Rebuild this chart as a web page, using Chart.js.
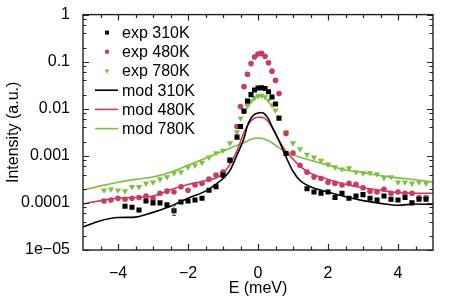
<!DOCTYPE html>
<html>
<head>
<meta charset="utf-8">
<script src="https://cdn.jsdelivr.net/npm/chart.js@4.4.0/dist/chart.umd.min.js"></script>
<style>
  html, body { margin: 0; padding: 0; background: #fff; }
  #wrap { width: 463px; height: 304px; }
</style>
</head>
<body>
<div id="wrap"><canvas id="chart"></canvas></div>
<script>
// measured points (E in meV, intensity in a.u.)
const e310 = [-3.8, -3.6, -3.4, -3.2, -3.0, -2.8, -2.6, -2.4, -2.2, -2.0, -1.8, -1.6, -1.4, -1.2, -1.0, -0.8,
  -0.6, -0.5, -0.4, -0.3, -0.2, -0.1, 0.0, 0.1, 0.2, 0.3, 0.4, 0.5, 0.6, 0.8,
  1.4, 1.6, 1.8, 2.0, 2.2, 2.4, 2.6, 2.8, 3.0, 3.2, 3.4, 3.6, 3.8, 4.0, 4.2, 4.4, 4.6, 4.8];
const i310 = [8.5e-5, 8.1e-5, 7.1e-5, 1.1e-4, 1.0e-4, 1.0e-4, 9.1e-5, 6.8e-5, 1.05e-4, 1.1e-4, 1.15e-4, 1.26e-4, 1.86e-4, 2.2e-4, 3.9e-4, 8.1e-4,
  2.5e-3, 4.2e-3, 8.9e-3, 1.45e-2, 2.0e-2, 2.5e-2, 2.75e-2, 2.8e-2, 2.7e-2, 2.3e-2, 1.78e-2, 1.26e-2, 6.3e-3, 1.12e-3,
  2.0e-4, 1.7e-4, 1.6e-4, 1.7e-4, 1.3e-4, 1.6e-4, 1.26e-4, 1.4e-4, 1.5e-4, 1.26e-4, 1.15e-4, 1.4e-4, 1.2e-4, 1.15e-4, 1.3e-4, 1.0e-4, 1.2e-4, 1.2e-4];

const e480 = [-4.4, -4.2, -4.0, -3.8, -3.6, -3.4, -3.2, -3.0, -2.8, -2.6, -2.4, -2.2, -2.0, -1.8, -1.6, -1.4, -1.2, -1.0, -0.8,
  -0.6, -0.5, -0.4, -0.3, -0.2, -0.1, 0.0, 0.1, 0.2, 0.3, 0.4, 0.5, 0.6,
  0.8, 1.0, 1.2, 1.4, 1.6, 1.8, 2.0, 2.2, 2.4, 2.6, 2.8, 3.0, 3.2, 3.4, 3.6, 3.8, 4.0, 4.2, 4.4, 4.6, 4.8];
const i480 = [1.1e-4, 1.15e-4, 1.26e-4, 1.2e-4, 1.26e-4, 1.3e-4, 1.4e-4, 1.26e-4, 1.6e-4, 1.78e-4, 1.7e-4, 2.2e-4, 1.86e-4, 2.4e-4, 2.6e-4, 3.2e-4, 3.9e-4, 4.5e-4, 7.9e-4,
  4.2e-3, 1.12e-2, 2.95e-2, 5.4e-2, 9.1e-2, 0.126, 0.145, 0.15, 0.13, 0.095, 0.063, 0.04, 0.021,
  3.0e-3, 1.15e-3, 6.3e-4, 4.5e-4, 3.55e-4, 3.3e-4, 2.75e-4, 2.6e-4, 2.4e-4, 2.6e-4, 2.5e-4, 2.1e-4, 1.78e-4, 1.7e-4, 1.95e-4, 1.6e-4, 1.7e-4, 1.6e-4, 1.6e-4, 1.3e-4, 1.3e-4];

const e780 = e480;
const i780 = [1.86e-4, 1.95e-4, 1.86e-4, 1.78e-4, 2.2e-4, 2.2e-4, 2.6e-4, 2.75e-4, 3.2e-4, 3.55e-4, 4.3e-4, 4.5e-4, 5.75e-4, 6.3e-4, 7.2e-4, 9.3e-4, 1.15e-3, 1.3e-3, 1.86e-3,
  3.2e-3, 6.3e-3, 8.9e-3, 1.15e-2, 1.45e-2, 1.7e-2, 1.86e-2, 1.9e-2, 1.78e-2, 1.5e-2, 1.2e-2, 9.3e-3, 6.6e-3,
  3.2e-3, 1.86e-3, 1.4e-3, 1.07e-3, 9.3e-4, 7.9e-4, 6.6e-4, 5.75e-4, 5.2e-4, 5.5e-4, 4.5e-4, 4.3e-4, 4.3e-4, 4.1e-4, 3.4e-4, 3.55e-4, 2.75e-4, 2.75e-4, 2.6e-4, 2.75e-4, 2.6e-4];

// one error bar on the 310K data
const errE = [-2.4];
const errLo = [5.4e-5];
const errHi = [8.9e-5];

// model curves
const modE = [-5, -4.5, -4, -3.5, -3, -2.5, -2, -1.5, -1.2, -1, -0.8, -0.6, -0.4, -0.3, -0.2, -0.1, 0, 0.1, 0.2, 0.3, 0.4,
  0.6, 0.8, 1, 1.2, 1.5, 2, 2.5, 3, 3.5, 4, 4.5, 5];
const mod310 = [3.1e-5, 4.2e-5, 4.9e-5, 5.0e-5, 6.3e-5, 8.5e-5, 1.26e-4, 1.78e-4, 2.5e-4, 3.3e-4, 4.9e-4, 1.05e-3, 2.35e-3, 4.4e-3, 6.3e-3, 7.6e-3, 8.1e-3, 8.3e-3, 7.6e-3, 6.0e-3, 4.2e-3,
  2.1e-3, 9.5e-4, 4.7e-4, 3.0e-4, 2.2e-4, 1.7e-4, 1.35e-4, 1.12e-4, 9.8e-5, 8.9e-5, 9.5e-5, 9.3e-5];
const mod480 = [9.5e-5, 1.12e-4, 1.26e-4, 1.3e-4, 1.4e-4, 1.9e-4, 2.45e-4, 2.95e-4, 3.4e-4, 4.2e-4, 6.6e-4, 1.3e-3, 3.16e-3, 4.4e-3, 5.5e-3, 6.3e-3, 6.6e-3, 6.6e-3, 6.2e-3, 5.2e-3, 4.0e-3,
  2.1e-3, 1.26e-3, 8.5e-4, 6.0e-4, 4.3e-4, 3.16e-4, 2.5e-4, 2.1e-4, 1.86e-4, 1.66e-4, 1.6e-4, 1.6e-4];
const mod780 = [1.86e-4, 2.3e-4, 2.75e-4, 3.16e-4, 3.55e-4, 4.5e-4, 6.3e-4, 8.9e-4, 1.1e-3, 1.26e-3, 1.45e-3, 1.66e-3, 1.9e-3, 2.1e-3, 2.24e-3, 2.35e-3, 2.4e-3, 2.35e-3, 2.24e-3, 2.1e-3, 1.9e-3,
  1.48e-3, 1.23e-3, 1.05e-3, 9.3e-4, 8.1e-4, 6.3e-4, 5.0e-4, 4.4e-4, 3.8e-4, 3.4e-4, 3.1e-4, 2.75e-4];

const labels = ['exp 310K', 'exp 480K', 'exp 780K', 'mod 310K', 'mod 480K', 'mod 780K'];

const xTicks = [-4, -2, 0, 2, 4];
const xMinor = [-4.5, -4, -3.5, -3, -2.5, -2, -1.5, -1, -0.5, 0, 0.5, 1, 1.5, 2, 2.5, 3, 3.5, 4, 4.5];
const yTicks = [1e-5, 1e-4, 1e-3, 1e-2, 1e-1, 1];
const yTickLabels = ['1e\u221205', '0.0001', '0.001', '0.01', '0.1', '1'];

const black = '#000000';
const red = '#cb3a62';
const green = '#7dbf40';
const axisColor = '#222222';
const font = '"Liberation Sans", Arial, sans-serif';

Chart.defaults.font.family = font;
Chart.defaults.font.size = 16;
Chart.defaults.color = '#000';

function pts(xs, ys) {
  return xs.map((x, i) => ({ x: x, y: ys[i] }));
}

function expSet(label, xs, ys, color, style, radius, rot) {
  return {
    label: label,
    data: pts(xs, ys),
    showLine: false,
    pointStyle: style,
    pointRotation: rot || 0,
    pointRadius: radius,
    pointBackgroundColor: color,
    pointBorderColor: color,
    pointBorderWidth: 0
  };
}

function modSet(label, ys, color) {
  return {
    label: label,
    data: pts(modE, ys),
    borderColor: color,
    borderWidth: 1.6,
    pointRadius: 0,
    cubicInterpolationMode: 'monotone',
    fill: false
  };
}

// inward ticks on all four sides plus the box
const frameTicks = {
  id: 'frameTicks',
  afterDatasetsDraw(chart) {
    const ctx = chart.ctx, a = chart.chartArea;
    const xs = chart.scales.x, ys = chart.scales.y;
    ctx.save();
    ctx.strokeStyle = axisColor;
    ctx.lineWidth = 1.2;
    ctx.beginPath();
    xMinor.forEach(v => {
      const px = Math.round(xs.getPixelForValue(v)) + 0.5;
      const len = xTicks.includes(v) ? 6 : 3.5;
      ctx.moveTo(px, a.bottom); ctx.lineTo(px, a.bottom - len);
      ctx.moveTo(px, a.top); ctx.lineTo(px, a.top + len);
    });
    const yMinor = [];
    for (let d = 1e-5; d < 1; d *= 10) {
      [2, 4, 6, 8].forEach(m => yMinor.push(m * d));
    }
    yMinor.forEach(v => {
      const py = Math.round(ys.getPixelForValue(v)) + 0.5;
      ctx.moveTo(a.left, py); ctx.lineTo(a.left + 3.5, py);
      ctx.moveTo(a.right, py); ctx.lineTo(a.right - 3.5, py);
    });
    yTicks.forEach(v => {
      const py = Math.round(ys.getPixelForValue(v)) + 0.5;
      ctx.moveTo(a.left, py); ctx.lineTo(a.left + 6, py);
      ctx.moveTo(a.right, py); ctx.lineTo(a.right - 6, py);
    });
    ctx.stroke();
    ctx.lineWidth = 1.4;
    ctx.strokeRect(a.left, a.top, a.right - a.left, a.bottom - a.top);

    // error bars
    ctx.strokeStyle = '#555';
    ctx.lineWidth = 1;
    ctx.beginPath();
    errE.forEach((e, i) => {
      const px = xs.getPixelForValue(e);
      const y1 = ys.getPixelForValue(errLo[i]);
      const y2 = ys.getPixelForValue(errHi[i]);
      ctx.moveTo(px, y1); ctx.lineTo(px, y2);
      ctx.moveTo(px - 2, y1); ctx.lineTo(px + 2, y1);
      ctx.moveTo(px - 2, y2); ctx.lineTo(px + 2, y2);
    });
    ctx.stroke();
    ctx.restore();
  }
};

// legend inside the plot, top left
const insideLegend = {
  id: 'insideLegend',
  afterDraw(chart) {
    const ctx = chart.ctx, a = chart.chartArea;
    const symX = a.left + 24, textX = a.left + 39;
    let y = a.top + 18;
    ctx.save();
    ctx.font = '16px ' + font;
    ctx.textBaseline = 'middle';
    ctx.textAlign = 'left';
    chart.data.datasets.forEach(ds => {
      if (ds.showLine === false) {
        ctx.fillStyle = ds.pointBackgroundColor;
        Chart.helpers.drawPoint(ctx, {
          pointStyle: ds.pointStyle,
          rotation: ds.pointRotation,
          radius: ds.pointRadius * 0.78,
          borderWidth: 0
        }, symX, y);
      } else {
        ctx.strokeStyle = ds.borderColor;
        ctx.lineWidth = ds.borderWidth;
        ctx.beginPath();
        ctx.moveTo(symX - 12, y);
        ctx.lineTo(symX + 11, y);
        ctx.stroke();
      }
      ctx.fillStyle = '#000';
      ctx.fillText(ds.label, textX, y + 1);
      y += 19.2;
    });
    ctx.restore();
  }
};

new Chart(document.getElementById('chart'), {
  type: 'line',
  data: {
    datasets: [
      expSet(labels[0], e310, i310, black, 'rect', 3.6),
      expSet(labels[1], e480, i480, red, 'circle', 2.8),
      expSet(labels[2], e780, i780, green, 'triangle', 3.6, 180),
      modSet(labels[3], mod310, black),
      modSet(labels[4], mod480, red),
      modSet(labels[5], mod780, green)
    ]
  },
  options: {
    responsive: true,
    maintainAspectRatio: false,
    animation: false,
    layout: {
      padding: { top: 14, right: 30, left: 0, bottom: 0 }
    },
    scales: {
      x: {
        type: 'linear',
        min: -5,
        max: 5,
        grid: { display: false },
        border: { display: false },
        afterBuildTicks: s => { s.ticks = xTicks.map(v => ({ value: v })); },
        afterFit: s => { s.height = 54; },
        ticks: {
          padding: 6,
          autoSkip: false,
          maxRotation: 0,
          callback: v => String(v).replace('-', '\u2212')
        },
        title: {
          display: true,
          text: 'E (meV)',
          padding: { top: 0, bottom: 6 }
        }
      },
      y: {
        type: 'logarithmic',
        min: 1e-5,
        max: 1,
        grid: { display: false },
        border: { display: false },
        afterBuildTicks: s => { s.ticks = yTicks.map(v => ({ value: v })); },
        afterFit: s => { s.width = 83; },
        ticks: {
          padding: 5,
          autoSkip: false,
          callback: (v, i) => yTickLabels[i]
        },
        title: {
          display: true,
          text: 'Intensity (a.u.)',
          padding: { top: 4, bottom: 0 }
        }
      }
    },
    plugins: {
      legend: { display: false },
      tooltip: { enabled: false }
    }
  },
  plugins: [frameTicks, insideLegend]
});
</script>
</body>
</html>
